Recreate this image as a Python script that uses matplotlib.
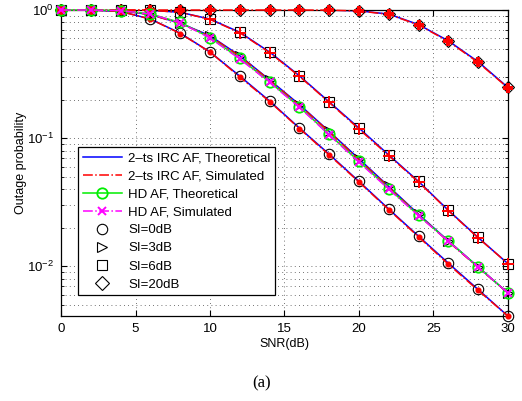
import numpy as np
import matplotlib

matplotlib.use("Agg")
import matplotlib.pyplot as plt
from matplotlib.lines import Line2D
from matplotlib.ticker import LogLocator, NullFormatter

plt.rcParams["font.family"] = ["Liberation Sans", "DejaVu Sans"]
plt.rcParams["mathtext.fontset"] = "custom"
plt.rcParams["mathtext.rm"] = "Liberation Sans"

# SNR points (dB)
snr = [0, 2, 4, 6, 8, 10, 12, 14, 16, 18, 20, 22, 24, 26, 28, 30]

# 2-ts IRC AF, theoretical, one curve per SI level
irc_si0 = [1.0, 0.999, 0.975, 0.85, 0.66, 0.47, 0.305, 0.195, 0.12, 0.075,
           0.046, 0.028, 0.0172, 0.0106, 0.0066, 0.0041]
irc_si3 = [1.0, 1.0, 0.99, 0.92, 0.79, 0.63, 0.44, 0.285, 0.183, 0.113,
           0.069, 0.042, 0.0255, 0.0158, 0.0099, 0.0062]
irc_si6 = [1.0, 1.0, 1.0, 0.995, 0.96, 0.85, 0.67, 0.47, 0.307, 0.192,
           0.12, 0.074, 0.046, 0.0274, 0.0168, 0.0105]
irc_si20 = [1.0, 1.0, 1.0, 1.0, 1.0, 1.0, 1.0, 1.0, 1.0, 0.998,
            0.985, 0.93, 0.77, 0.575, 0.395, 0.249]

# 2-ts IRC AF, simulated
sim_si0 = [1.0, 0.999, 0.974, 0.85, 0.655, 0.47, 0.30, 0.193, 0.119, 0.074,
           0.0455, 0.0277, 0.017, 0.0104, 0.0065, 0.0041]
sim_si3 = [1.0, 1.0, 0.99, 0.92, 0.785, 0.625, 0.435, 0.283, 0.181, 0.112,
           0.068, 0.0415, 0.0253, 0.0156, 0.0098, 0.0062]
sim_si6 = [1.0, 1.0, 1.0, 0.995, 0.96, 0.845, 0.665, 0.465, 0.304, 0.19,
           0.118, 0.073, 0.0455, 0.0272, 0.0167, 0.0105]
sim_si20 = [1.0, 1.0, 1.0, 1.0, 1.0, 1.0, 1.0, 1.0, 1.0, 0.998,
            0.983, 0.925, 0.765, 0.57, 0.39, 0.247]

# HD AF (does not depend on SI)
hd_theory = [1.0, 1.0, 0.99, 0.93, 0.80, 0.61, 0.42, 0.275, 0.176, 0.107,
             0.066, 0.0405, 0.025, 0.0158, 0.0099, 0.0062]
hd_sim = [1.0, 1.0, 0.99, 0.93, 0.795, 0.605, 0.415, 0.272, 0.174, 0.106,
          0.065, 0.04, 0.0248, 0.0157, 0.0099, 0.0062]

theory = [irc_si0, irc_si3, irc_si6, irc_si20]
simulated = [sim_si0, sim_si3, sim_si6, sim_si20]
si_markers = ["o", ">", "s", "D"]
sim_markers = [".", None, "+", "P"]
si_labels = ["SI=0dB", "SI=3dB", "SI=6dB", "SI=20dB"]

fig = plt.figure(figsize=(5.22, 4.01), dpi=100)
ax = fig.add_axes([0.117, 0.212, 0.856, 0.763])

for th, sm, mk, smk in zip(theory, simulated, si_markers, sim_markers):
    ax.plot(snr, th, color="blue", lw=1.1)
    ax.plot(snr, th, ls="none", marker=mk, ms=7.5 if mk != "D" else 6.5,
            mfc="none", mec="black", mew=0.8, clip_on=False, zorder=3)
    ax.plot(snr, sm, color="red", ls="-.", lw=1.1,
            marker=smk, ms=9 if smk == "+" else 6, mec="red", mew=1.4,
            clip_on=False, zorder=3)

ax.plot(snr, hd_theory, color="#00ee00", lw=1.1, marker="o", ms=7.5,
        mfc="none", mec="#00ee00", mew=1.3, clip_on=False, zorder=4)
ax.plot(snr, hd_sim, color="magenta", ls="-.", lw=1.1, marker="x", ms=6,
        mec="magenta", mew=1.4, clip_on=False, zorder=4)

ax.set_yscale("log")
ax.set_xlim(0, 30)
ax.set_ylim(0.0041, 1)
ax.set_xticks([0, 5, 10, 15, 20, 25, 30])
ax.yaxis.set_major_locator(LogLocator(base=10))
ax.yaxis.set_minor_locator(LogLocator(base=10, subs=np.arange(2, 10)))
ax.yaxis.set_minor_formatter(NullFormatter())
ax.tick_params(which="both", direction="in", top=True, right=True,
               labelsize=9.5)
ax.tick_params(which="major", length=4, pad=5)
ax.tick_params(which="minor", length=2)
ax.grid(True, which="major", ls=(0, (1, 4)), color="#444444", lw=0.6)
ax.grid(True, which="minor", axis="y", ls=(0, (1, 4)), color="#444444",
        lw=0.6)
for sp in ax.spines.values():
    sp.set_linewidth(0.9)

ax.set_xlabel("SNR(dB)", fontsize=9, labelpad=2)
ax.set_ylabel("Outage probability", fontsize=9, labelpad=0)

handles = [
    Line2D([], [], color="blue", lw=1.1),
    Line2D([], [], color="red", ls="-.", lw=1.1),
    Line2D([], [], color="#00ee00", lw=1.1, marker="o", ms=7.5, mfc="none",
           mec="#00ee00", mew=1.3),
    Line2D([], [], color="magenta", ls="-.", lw=1.1, marker="x", ms=6,
           mew=1.4),
]
for mk in si_markers:
    handles.append(Line2D([], [], ls="none", marker=mk,
                          ms=7.5 if mk != "D" else 7, mfc="none",
                          mec="black", mew=0.8))
labels = ["2\u2013ts IRC AF, Theoretical", "2\u2013ts IRC AF, Simulated",
          "HD AF, Theoretical", "HD AF, Simulated"] + si_labels

leg = ax.legend(handles, labels, loc="lower left",
                bbox_to_anchor=(0.038, 0.068), fontsize=9.5, frameon=True,
                fancybox=False, edgecolor="black", framealpha=1,
                borderpad=0.35, labelspacing=0.44, handlelength=3.0,
                handletextpad=0.45, borderaxespad=0)
leg.get_frame().set_linewidth(0.9)
leg.set_zorder(5)

fig.text(0.502, 0.045, "(a)", ha="center", va="center", fontsize=12,
         family=["Liberation Serif", "DejaVu Serif"])

plt.savefig("out.png", dpi=100)
